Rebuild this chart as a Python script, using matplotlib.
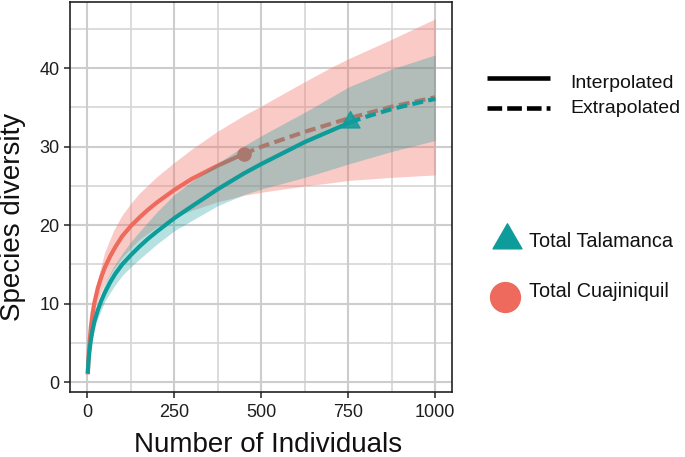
import matplotlib
matplotlib.use("Agg")
import matplotlib.pyplot as plt
from matplotlib.path import Path
import numpy as np

plt.rcParams['font.family'] = ['Liberation Sans', 'DejaVu Sans']

# ---------------- data ----------------
# Total Cuajiniquil (red): observed n = 450, S = 29.1
cua_int_x = [1, 3, 6, 10, 15, 20, 30, 40, 50, 65, 80, 100, 125, 150, 175, 200, 250, 300, 375, 450]
cua_int_y = [1.0, 2.9, 5.0, 7.0, 8.8, 10.1, 12.0, 13.4, 14.6, 16.0, 17.2, 18.6, 19.9, 21.0, 22.0, 22.9, 24.5, 25.9, 27.6, 29.1]
cua_ext_x = [450, 500, 625, 750, 875, 1000]
cua_ext_y = [29.1, 30.0, 31.9, 33.6, 35.1, 36.3]
cua_obs = (450, 29.1)

# Total Talamanca (teal): observed n = 755, S = 33.1
tal_int_x = [1, 3, 6, 10, 15, 20, 30, 40, 50, 65, 80, 100, 125, 150, 175, 200, 250, 300, 375, 450, 500, 625, 755]
tal_int_y = [1.1, 2.6, 4.0, 5.4, 6.7, 7.7, 9.2, 10.4, 11.4, 12.7, 13.8, 15.0, 16.2, 17.3, 18.3, 19.2, 20.9, 22.4, 24.6, 26.6, 27.8, 30.6, 33.1]
tal_ext_x = [755, 800, 875, 950, 1000]
tal_ext_y = [33.1, 33.8, 34.8, 35.6, 36.1]
tal_obs = (755, 33.1)

# confidence bands
band_x = [1, 10, 25, 50, 75, 100, 125, 150, 200, 250, 300, 375, 450, 500, 625, 700, 750, 875, 1000]
cua_lo = [1.0, 6.2, 9.8, 12.6, 14.4, 15.9, 17.1, 18.2, 19.8, 21.0, 21.9, 23.0, 23.8, 24.2, 25.0, 25.4, 25.7, 26.1, 26.4]
cua_hi = [1.0, 7.8, 12.3, 16.6, 19.3, 21.3, 22.8, 24.1, 26.2, 28.0, 29.7, 32.0, 34.0, 35.2, 38.3, 40.1, 41.2, 43.7, 46.3]
tal_lo = [1.1, 4.8, 7.6, 10.3, 12.1, 13.6, 14.7, 15.7, 17.6, 19.3, 20.6, 22.5, 23.9, 24.6, 26.1, 27.1, 27.8, 29.4, 30.8]
tal_hi = [1.1, 6.0, 9.2, 12.6, 14.7, 16.4, 17.9, 19.2, 21.7, 23.9, 25.6, 27.9, 30.1, 31.4, 34.4, 36.3, 37.6, 39.9, 41.7]

x_ticks = [0, 250, 500, 750, 1000]
y_ticks = [0, 10, 20, 30, 40]
legend_lines = ["Interpolated", "Extrapolated"]
legend_sites = ["Total Talamanca", "Total Cuajiniquil"]

RED = '#EE6A5C'
TEAL = '#0E9C9A'

# equilateral triangle marker (centroid centred)
tri = Path([(0, 1), (-0.866, -0.5), (0.866, -0.5), (0, 1)],
           [Path.MOVETO, Path.LINETO, Path.LINETO, Path.CLOSEPOLY])

fig = plt.figure(figsize=(6.85, 4.57), dpi=100)
ax = fig.add_axes([70/685, 1-392/457, (452-70)/685, (392-1.5)/457])

# grid
for v in [125, 375, 625, 875]:
    ax.axvline(v, color='#D6D6D6', lw=1.2, zorder=0)
for v in [5, 15, 25, 35, 45]:
    ax.axhline(v, color='#D6D6D6', lw=1.2, zorder=0)
for v in x_ticks:
    ax.axvline(v, color='#CDCDCD', lw=1.5, zorder=0)
for v in y_ticks:
    ax.axhline(v, color='#CDCDCD', lw=1.5, zorder=0)

lw = 3.0
# red series
ax.fill_between(band_x, cua_lo, cua_hi, color='#F4766B', alpha=0.38, lw=0, zorder=1)
ax.plot(cua_int_x, cua_int_y, color=RED, lw=lw, solid_capstyle='butt', zorder=2)
ax.plot(cua_ext_x, cua_ext_y, color=RED, lw=lw, dashes=(2.6, 1.3), zorder=2)
ax.plot([cua_obs[0]], [cua_obs[1]], 'o', color=RED, ms=9.5, zorder=2)
# teal series
ax.fill_between(band_x, tal_lo, tal_hi, color=TEAL, alpha=0.3, lw=0, zorder=3)
ax.plot(tal_int_x, tal_int_y, color=TEAL, lw=lw, solid_capstyle='butt', zorder=4)
ax.plot(tal_ext_x, tal_ext_y, color=TEAL, lw=lw, dashes=(2.6, 1.3), zorder=4)
ax.plot([tal_obs[0]], [tal_obs[1]], marker=tri, ls='none', color=TEAL, ms=15.8, alpha=0.85, zorder=4)

ax.set_xlim(-50, 1048)
ax.set_ylim(-1.25, 48.5)
ax.set_xticks(x_ticks)
ax.set_yticks(y_ticks)
ax.set_xticklabels([str(v) for v in x_ticks])
ax.set_yticklabels([str(v) for v in y_ticks])
ax.tick_params(axis='both', labelsize=13, labelcolor='#1E1E1E', color='#222222',
               length=4.5, width=1.1, pad=3)
ax.tick_params(axis='x', pad=4)
for s in ax.spines.values():
    s.set_color('#222222')
    s.set_linewidth(1.2)

fig.text(268.3/685, 1-452/457, 'Number of Individuals', ha='center', va='baseline',
         fontsize=20, color='#111111')
fig.text(13.3/685, 1-216.7/457, 'Species diversity', rotation=90, ha='center', va='center',
         fontsize=20, color='#111111')

# legend drawn in pixel coordinates
lax = fig.add_axes([0, 0, 1, 1], zorder=10)
lax.set_xlim(0, 685)
lax.set_ylim(457, 0)
lax.axis('off')
lax.patch.set_alpha(0)
lax.plot([487, 550], [78.3, 78.3], color='black', lw=3.3, solid_capstyle='butt')
lax.plot([487, 550], [107.5, 107.5], color='black', lw=3.3, dashes=(3.2, 1.1))
lax.text(570, 88.3, legend_lines[0], fontsize=14, va='baseline', color='#111111')
lax.text(570, 113.3, legend_lines[1], fontsize=14, va='baseline', color='#111111')
lax.plot([507], [239.5], marker=tri, ls='none', color=TEAL, ms=24)
lax.plot([505.3], [296.7], marker='o', ls='none', color=RED, ms=21.5)
lax.text(529.3, 246.7, legend_sites[0], fontsize=14.3, va='baseline', color='#111111')
lax.text(529.3, 296.7, legend_sites[1], fontsize=14.3, va='baseline', color='#111111')

fig.savefig('out.png', dpi=100)
